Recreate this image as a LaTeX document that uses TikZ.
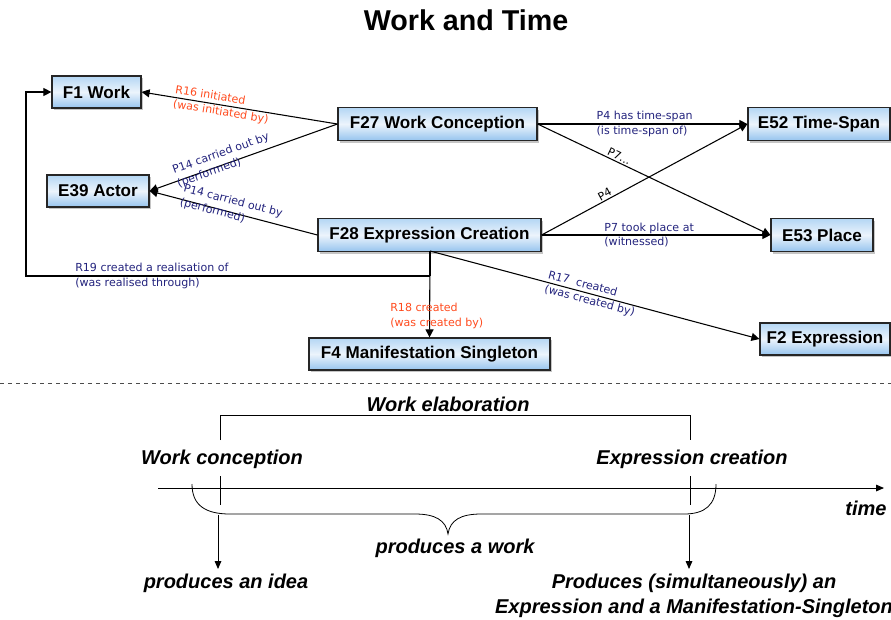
\documentclass[tikz,border=0pt]{standalone}
\usepackage{fontspec}
\setmainfont{Liberation Sans}
\newfontfamily\lblfont{DejaVu Sans}
\usetikzlibrary{arrows.meta,shadows}
\definecolor{navy}{RGB}{35,35,125}
\definecolor{orred}{RGB}{255,75,30}
\definecolor{btop}{RGB}{180,214,244}
\definecolor{bmid}{RGB}{236,244,252}
\definecolor{bbot}{RGB}{150,196,238}
\tikzset{
  ent/.style={draw=black!85, line width=0.9pt, top color=btop, bottom color=bbot, middle color=bmid,
    font=\fontsize{12.8pt}{14pt}\selectfont\bfseries, inner sep=0pt,
    drop shadow={shadow xshift=1.5pt, shadow yshift=-1.5pt, fill=black!45}},
  conn/.style={line width=0.8pt, -{Triangle[length=6pt,width=6pt]}},
  plain/.style={line width=0.8pt},
  lbl/.style={font=\lblfont\fontsize{8.3pt}{10.8pt}\selectfont, align=left, inner sep=0pt},
  tl/.style={font=\fontsize{15pt}{17pt}\selectfont\bfseries\itshape, inner sep=0pt},
  tarr/.style={line width=0.7pt, -{Triangle[length=6pt,width=5pt]}},
  tline/.style={line width=0.6pt}
}
\begin{document}
\begin{tikzpicture}[x=0.75pt,y=-0.75pt]
\useasboundingbox (0,0) rectangle (891,619);
\node[font=\fontsize{21.5pt}{23pt}\selectfont\bfseries] (title) at (466,20) {Work and Time};
% entities
\node[ent, minimum width=89*0.75pt, minimum height=32*0.75pt] (f1) at (96.5,92) {F1 Work};
\node[ent, minimum width=102*0.75pt, minimum height=32*0.75pt] (e39) at (98,191) {E39 Actor};
\node[ent, minimum width=199*0.75pt, minimum height=33*0.75pt] (f27) at (437.5,124) {F27 Work Conception};
\node[ent, minimum width=223*0.75pt, minimum height=33*0.75pt] (f28) at (429.5,235) {F28 Expression Creation};
\node[ent, minimum width=142*0.75pt, minimum height=33*0.75pt] (e52) at (819,124) {E52 Time-Span};
\node[ent, minimum width=102*0.75pt, minimum height=33*0.75pt] (e53) at (822,235) {E53 Place};
\node[ent, minimum width=241*0.75pt, minimum height=32*0.75pt] (f4) at (429.5,354) {F4 Manifestation Singleton};
\node[ent, minimum width=130*0.75pt, minimum height=32*0.75pt] (f2) at (825,339) {F2 Expression};
% coordinates
\coordinate (f28b) at (430,251);
\coordinate (r19c) at (430,276);
\coordinate (r19l) at (26,276);
\coordinate (r19u) at (26,92);
% connectors
\draw[conn] (f27.west) -- node[lbl, text=orred, sloped, pos=0.59] {R16 initiated\\(was initiated by)} (f1.east);
\draw[conn] (f27.west) -- node[lbl, text=navy, sloped, pos=0.6, yshift=3pt] {P14 carried out by\\(performed)} (e39.east);
\draw[conn] (f28.west) -- node[lbl, text=navy, sloped, pos=0.52, yshift=3pt] {P14 carried out by\\(performed)} (e39.east);
\draw[conn] (f27.east) -- node[lbl, text=navy, pos=0.51] {P4 has time-span\\(is time-span of)} (e52.west);
\draw[conn] (f27.east) -- node[lbl, sloped, above, pos=0.34, inner sep=1pt] {P7...} (e53.west);
\draw[conn] (f28.east) -- node[lbl, sloped, above, pos=0.32, inner sep=1pt] {P4} (e52.west);
\draw[conn] (f28.east) -- node[lbl, text=navy, pos=0.47] {P7 took place at\\(witnessed)} (e53.west);
\draw[conn] (f28b) -- (f4.north);
\draw[conn] (f28b) -- node[lbl, text=navy, sloped, pos=0.49] {R17\ \ created\\(was created by)} (f2.west);
\draw[plain] (f28b) -- (r19c);
\draw[conn] (r19c) -- (r19l) -- (r19u) -- (f1.west);
\node[lbl, text=navy, anchor=west] (r19lbl) at (75,276) {R19 created a realisation of\\(was realised through)};
\node[lbl, text=orred, anchor=west] (r18lbl) at (390,316) {R18 created\\(was created by)};
% separator
\draw[black!70, dashed, line width=0.5pt] (0,383) -- (891,383);
% timeline
\node[tl] (welab) at (448,404) {Work elaboration};
\coordinate (bl) at (220,440);
\coordinate (br) at (690,440);
\draw[tline] (bl) -- (220,415) -- (690,415) -- (br);
\node[tl] (wc) at (222,459) {Work conception};
\node[tl] (ec) at (692,459) {Expression creation};
\coordinate (ts) at (158,488);
\coordinate (te) at (884,488);
\draw[tarr] (ts) -- (te);
\node[tl] (time) at (866,508) {time};
\draw[tline] (220,476) -- (220,505);
\draw[tline] (690,476) -- (690,505);
\draw[tline] (192,484) .. controls (192,505) and (205,514) .. (230,514) -- (415,514)
  .. controls (435,514) and (446,520) .. (448,534)
  .. controls (450,520) and (461,514) .. (481,514) -- (684,514)
  .. controls (705,514) and (716,505) .. (716,484);
\coordinate (a1s) at (218,515);
\coordinate (a1e) at (218,569);
\coordinate (a2s) at (689,515);
\coordinate (a2e) at (689,569);
\draw[tarr] (a1s) -- (a1e);
\draw[tarr] (a2s) -- (a2e);
\node[tl] (pw) at (455,548) {produces a work};
\node[tl] (pi) at (226,583) {produces an idea};
\node[tl, align=center] (ps) at (694,596) {Produces (simultaneously) an\\[2pt]Expression and a Manifestation-Singleton};
\end{tikzpicture}
\end{document}
